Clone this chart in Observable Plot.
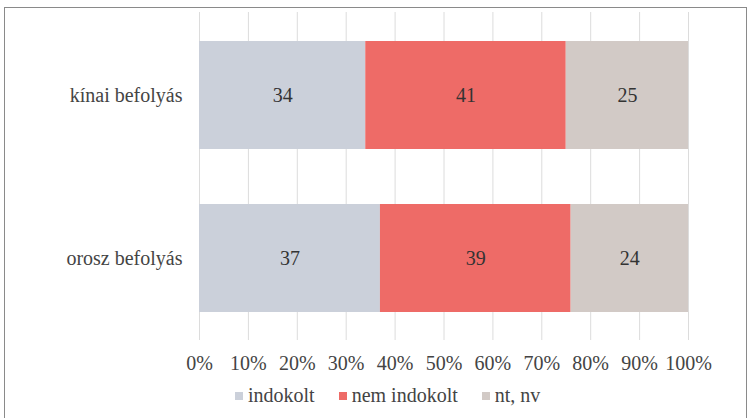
<!DOCTYPE html>
<html>
<head>
<meta charset="utf-8">
<script src="https://cdn.jsdelivr.net/npm/d3@7"></script>
<script src="https://cdn.jsdelivr.net/npm/@observablehq/plot@0.6"></script>
<style>
  html, body { margin: 0; padding: 0; background: #fff; }
  #wrap { position: relative; width: 750px; height: 418px; overflow: hidden; font-family: "Liberation Serif", "Times New Roman", Tinos, "DejaVu Serif", Times, serif; }
  #frame { position: absolute; left: 4px; top: 7px; width: 743px; height: 420px; border: 1.5px solid #8a8a8a; box-sizing: border-box; pointer-events: none; }
  #chart { position: absolute; left: 0; top: 0; }
  #chart svg, #chart svg text { font-family: "Liberation Serif", "Times New Roman", Tinos, "DejaVu Serif", Times, serif !important; }
  #legend { position: absolute; left: 235px; top: 384px; display: flex; align-items: center; font-size: 20px; line-height: 23px; color: #444; }
  .item { display: flex; align-items: center; margin-right: 24px; }
  .sw { width: 8px; height: 8px; margin-right: 5px; }
</style>
</head>
<body>
<div id="wrap">
  <div id="chart"></div>
  <div id="legend"></div>
  <div id="frame"></div>
</div>
<script>
const categories = ["kínai befolyás", "orosz befolyás"];
const series = ["indokolt", "nem indokolt", "nt, nv"];
const indokolt = [34, 37];
const nemIndokolt = [41, 39];
const ntNv = [25, 24];
const xTicks = [0, 10, 20, 30, 40, 50, 60, 70, 80, 90, 100];
const colors = ["#cbd0da", "#ee6b67", "#d2cac6"];

const values = [indokolt, nemIndokolt, ntNv];
const data = [];
series.forEach((s, si) => categories.forEach((c, ci) => data.push({cat: c, series: s, value: values[si][ci]})));

const serifStack = "'Liberation Serif', 'Times New Roman', Tinos, 'DejaVu Serif', Times, serif";

const plot = Plot.plot({
  width: 750,
  height: 418,
  marginLeft: 199,
  marginRight: 62,
  marginTop: 12,
  marginBottom: 78,
  style: {fontFamily: serifStack, fontSize: "20px", color: "#444", background: "transparent"},
  x: {domain: [0, 100], ticks: xTicks, tickFormat: d => d + "%", label: null},
  y: {domain: categories, label: null, paddingInner: 0.34, paddingOuter: 0.173},
  color: {domain: series, range: colors},
  marks: [
    Plot.gridX(xTicks, {stroke: "#dcdcdc", strokeOpacity: 1, strokeWidth: 1}),
    Plot.barX(data, Plot.stackX({x: "value", y: "cat", fill: "series", order: series})),
    Plot.text(data, Plot.stackX({x: "value", y: "cat", z: "series", order: series, text: d => String(d.value), fill: "#333", fontSize: 20})),
    Plot.axisX({ticks: xTicks, tickFormat: d => d + "%", tickSize: 0, tickPadding: 15, fontSize: 20, fill: "#444"}),
    Plot.axisY({tickSize: 0, tickPadding: 17, fontSize: 20, fill: "#444"})
  ]
});
document.getElementById("chart").appendChild(plot);

const leg = document.getElementById("legend");
series.forEach((s, i) => {
  const it = document.createElement("div");
  it.className = "item";
  const sw = document.createElement("span");
  sw.className = "sw";
  sw.style.background = colors[i];
  it.appendChild(sw);
  const t = document.createElement("span");
  t.textContent = s;
  it.appendChild(t);
  leg.appendChild(it);
});
</script>
</body>
</html>
